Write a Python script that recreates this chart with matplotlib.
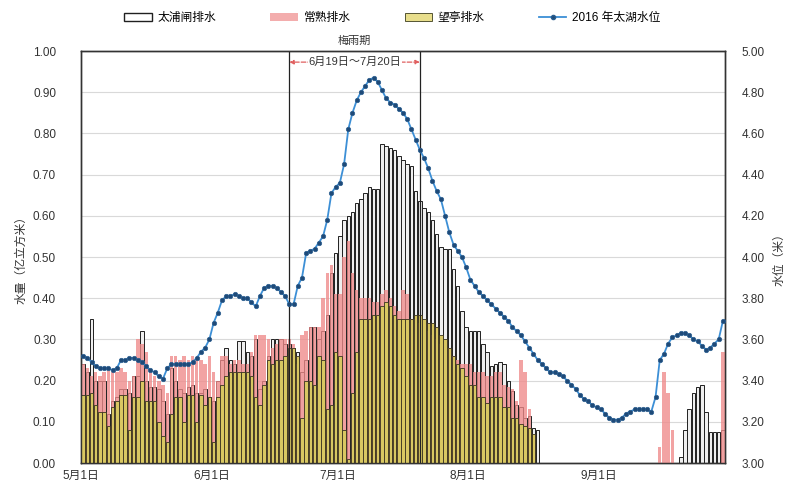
import matplotlib
matplotlib.use('Agg')
import matplotlib.pyplot as plt
from matplotlib.lines import Line2D
from matplotlib.patches import Patch
import numpy as np

plt.rcParams['font.family'] = ['Liberation Sans', 'Noto Sans CJK SC', 'DejaVu Sans']

# ---------------- data (daily, 1 May .. 30 Sep 2016) ----------------
month_ticks = [0, 31, 61, 92, 123]
month_labels = ['5月1日', '6月1日', '7月1日', '8月1日', '9月1日']
series_names = ['太浦闸排水', '常熟排水', '望亭排水', '2016 年太湖水位']

taipu = [  # 太浦闸排水 (亿立方米)
    0.24, 0.22, 0.35, 0.20, 0.20, 0.20, 0.12, 0.15, 0.16, 0.18, 0.18, 0.17, 0.21, 0.21, 0.32, 0.20,
    0.185, 0.185, 0.18, 0.15, 0.12, 0.23, 0.20, 0.18, 0.17, 0.185, 0.19, 0.17, 0.17, 0.18, 0.16,
    0.15, 0.20, 0.25, 0.28, 0.25, 0.24, 0.295, 0.295, 0.27, 0.26, 0.30, 0.18, 0.20, 0.26, 0.30,
    0.30, 0.30, 0.29, 0.29, 0.28, 0.27, 0.22, 0.25, 0.33, 0.33, 0.30, 0.32, 0.36, 0.46, 0.51,
    0.55, 0.59, 0.60, 0.61, 0.63, 0.64, 0.655, 0.67, 0.665, 0.665, 0.775, 0.77, 0.765, 0.76, 0.745,
    0.735, 0.725, 0.72, 0.66, 0.635, 0.62, 0.61, 0.59, 0.555, 0.525, 0.52, 0.52, 0.47, 0.43, 0.37, 0.33,
    0.32, 0.32, 0.32, 0.29, 0.27, 0.235, 0.24, 0.245, 0.24, 0.20, 0.175, 0.14, 0.135, 0.11, 0.115,
    0.085, 0.08, 0, 0, 0, 0, 0, 0, 0, 0, 0, 0, 0, 0, 0, 0,
    0, 0, 0, 0, 0, 0, 0, 0, 0, 0, 0, 0, 0, 0, 0, 0, 0, 0, 0, 0.015, 0.08, 0.13, 0.17, 0.185, 0.19,
    0.125, 0.075, 0.075, 0.075, 0.08,
]
changshu = [  # 常熟排水 (亿立方米)
    0.24, 0.23, 0.21, 0.22, 0.21, 0.22, 0.23, 0.22, 0.22, 0.23, 0.22, 0.20, 0.21, 0.30, 0.29, 0.27,
    0.22, 0.21, 0.20, 0.19, 0.17, 0.26, 0.26, 0.25, 0.26, 0.25, 0.26, 0.25, 0.25, 0.24, 0.26,
    0.22, 0.20, 0.26, 0.26, 0.24, 0.25, 0.25, 0.24, 0.24, 0.27, 0.31, 0.31, 0.31, 0.30, 0.28,
    0.29, 0.30, 0.30, 0.30, 0.29, 0.24, 0.31, 0.32, 0.33, 0.33, 0.33, 0.40, 0.46, 0.48, 0.41,
    0.41, 0.50, 0.54, 0.46, 0.42, 0.40, 0.40, 0.40, 0.39, 0.39, 0.41, 0.42, 0.40, 0.38, 0.37,
    0.42, 0.41, 0.35, 0.35, 0.34, 0.33, 0.32, 0.31, 0.30, 0.29, 0.29, 0.28, 0.26, 0.25, 0.24, 0.24,
    0.24, 0.22, 0.22, 0.22, 0.21, 0.21, 0.22, 0.22, 0.19, 0.185, 0.18, 0.15, 0.25, 0.22, 0.13,
    0, 0, 0, 0, 0, 0, 0, 0, 0, 0, 0, 0, 0, 0, 0, 0,
    0, 0, 0, 0, 0, 0, 0, 0, 0, 0, 0, 0, 0, 0, 0.04, 0.22, 0.17, 0.08, 0, 0, 0, 0, 0, 0,
    0, 0, 0, 0, 0, 0.27,
]
wangting = [  # 望亭排水 (亿立方米)
    0.165, 0.165, 0.17, 0.14, 0.125, 0.125, 0.09, 0.137, 0.15, 0.165, 0.165, 0.08, 0.16, 0.16, 0.20,
    0.15, 0.15, 0.15, 0.10, 0.065, 0.05, 0.12, 0.16, 0.16, 0.10, 0.165, 0.165, 0.10, 0.165, 0.14, 0.16,
    0.05, 0.16, 0.19, 0.21, 0.22, 0.22, 0.22, 0.22, 0.22, 0.21, 0.16, 0.14, 0.19, 0.25, 0.24,
    0.25, 0.25, 0.26, 0.28, 0.28, 0.26, 0.11, 0.20, 0.20, 0.19, 0.26, 0.25, 0.13, 0.14, 0.27,
    0.26, 0.08, 0.01, 0.17, 0.27, 0.35, 0.35, 0.35, 0.36, 0.36, 0.38, 0.39, 0.38, 0.36, 0.35,
    0.35, 0.35, 0.35, 0.36, 0.36, 0.35, 0.34, 0.34, 0.33, 0.31, 0.30, 0.28, 0.26, 0.24, 0.23, 0.21,
    0.19, 0.19, 0.16, 0.16, 0.145, 0.16, 0.16, 0.16, 0.135, 0.135, 0.11, 0.11, 0.095, 0.09, 0.085,
    0.07, 0, 0, 0, 0, 0, 0, 0, 0, 0, 0, 0, 0, 0, 0, 0,
    0, 0, 0, 0, 0, 0, 0, 0, 0, 0, 0, 0, 0, 0, 0, 0, 0, 0, 0, 0, 0, 0, 0, 0,
    0, 0, 0, 0, 0, 0,
]
level = [  # 2016 年太湖水位 (米)
    3.52, 3.51, 3.49, 3.47, 3.46, 3.46, 3.46, 3.45, 3.46, 3.50, 3.50, 3.51, 3.51, 3.50, 3.49, 3.47,
    3.45, 3.44, 3.42, 3.41, 3.46, 3.48, 3.48, 3.48, 3.48, 3.48, 3.49, 3.51, 3.54, 3.56, 3.60,
    3.68, 3.73, 3.79, 3.81, 3.81, 3.82, 3.81, 3.80, 3.80, 3.78, 3.76, 3.81, 3.85, 3.86, 3.86,
    3.85, 3.83, 3.81, 3.77, 3.77, 3.86, 3.90, 4.02, 4.03, 4.04, 4.07, 4.10, 4.18, 4.31, 4.34,
    4.36, 4.45, 4.62, 4.70, 4.76, 4.80, 4.83, 4.86, 4.87, 4.85, 4.81, 4.77, 4.75, 4.74, 4.72,
    4.70, 4.67, 4.62, 4.57, 4.52, 4.48, 4.43, 4.37, 4.32, 4.28, 4.20, 4.12, 4.06, 4.03, 4.00, 3.95,
    3.89, 3.86, 3.83, 3.81, 3.79, 3.77, 3.75, 3.73, 3.71, 3.69, 3.66, 3.64, 3.62, 3.59, 3.56,
    3.53, 3.50, 3.48, 3.46, 3.44, 3.44, 3.43, 3.42, 3.40, 3.38, 3.36, 3.33, 3.31, 3.30, 3.28, 3.27,
    3.26, 3.24, 3.22, 3.21, 3.21, 3.22, 3.24, 3.25, 3.26, 3.26, 3.26, 3.26, 3.25, 3.32, 3.50,
    3.53, 3.58, 3.61, 3.62, 3.63, 3.63, 3.62, 3.60, 3.59, 3.57, 3.55, 3.56, 3.58, 3.60, 3.69,
]
meiyu_start, meiyu_end = 49, 80   # 6月19日, 7月20日 (day index)
meiyu_title = '梅雨期'
meiyu_text = '6月19日～7月20日'

# ---------------- drawing ----------------
x = np.arange(len(level))
fig = plt.figure(figsize=(7.85, 4.91), dpi=100)
ax = fig.add_axes([81/785, 28/491, 644/785, 412/491])
ax2 = ax.twinx()

bw = 0.82
pink = '#EF8A8A'
ax.bar(x, taipu, width=bw, color='#EFEFEF', edgecolor='#202020', linewidth=0.7, zorder=2)
ax.bar(x, changshu, width=bw, color=pink, alpha=0.78, linewidth=0, zorder=3)
ax.bar(x, wangting, width=bw, color='#D8C762', edgecolor='#3A3320', linewidth=0.6, zorder=4)

ax2.plot(x, level, color='#3C8FD6', lw=1.3, marker='o', ms=3.2,
         mfc='#1F4A78', mec='#2A5E90', mew=0.5, zorder=5)

ax.set_xlim(-0.5, len(level) - 0.5)
ax.set_ylim(0, 1.0)
ax2.set_ylim(3.0, 5.0)
ax.set_yticks(np.arange(0, 1.01, 0.1))
ax.set_yticklabels([f'{v:.2f}' for v in np.arange(0, 1.01, 0.1)])
ax2.set_yticks(np.arange(3.0, 5.01, 0.2))
ax2.set_yticklabels([f'{v:.2f}' for v in np.arange(3.0, 5.01, 0.2)])
ax.set_xticks([t - 0.5 for t in month_ticks])
ax.set_xticklabels(month_labels)

for a in (ax, ax2):
    a.tick_params(length=0, labelsize=8.5, colors='#333333')
    for s in a.spines.values():
        s.set_color('#333333')
        s.set_linewidth(1.0)
ax.tick_params(axis='y', pad=18)
ax2.tick_params(axis='y', pad=12)
ax.tick_params(axis='x', pad=5)
ax.grid(axis='y', color='#D9D9D9', lw=0.8, zorder=0)
ax.set_axisbelow(True)

ax.set_ylabel('水量（亿立方米）', fontsize=8.5, color='#333333', labelpad=4)
ax2.set_ylabel('水位（米）', fontsize=8.5, color='#333333', labelpad=6)

# 梅雨期 markers
for d in (meiyu_start, meiyu_end):
    ax.axvline(d, color='#222222', lw=0.9, zorder=6)
ax.annotate('', xy=(meiyu_start, 0.973), xytext=(meiyu_end, 0.973),
            arrowprops=dict(arrowstyle='<|-|>', color='#E06060', lw=0.9, ls='--',
                            mutation_scale=6, shrinkA=0, shrinkB=0), zorder=7)
ax.text((meiyu_start + meiyu_end) / 2, 0.973, meiyu_text, ha='center', va='center',
        fontsize=8, color='#333333', zorder=8,
        bbox=dict(facecolor='white', edgecolor='none', pad=0.5))
ax.text((meiyu_start + meiyu_end) / 2, 1.012, meiyu_title, ha='center', va='bottom',
        fontsize=8, color='#333333')

handles = [Patch(facecolor='white', edgecolor='#202020', linewidth=1.0),
           Patch(facecolor=pink, alpha=0.7, edgecolor='none'),
           Patch(facecolor='#E8DE8C', edgecolor='#555533', linewidth=0.7),
           Line2D([], [], color='#3C8FD6', lw=1.3, marker='o', ms=3, mfc='#1F4A78', mec='#2A5E90')]
fig.legend(handles, series_names, loc='center', bbox_to_anchor=(0.5, 0.963), ncol=4,
           frameon=False, fontsize=8.5, columnspacing=4.6, handlelength=2.3, handleheight=0.7,
           handletextpad=0.5)

fig.savefig('out.png', dpi=100, facecolor='white')
